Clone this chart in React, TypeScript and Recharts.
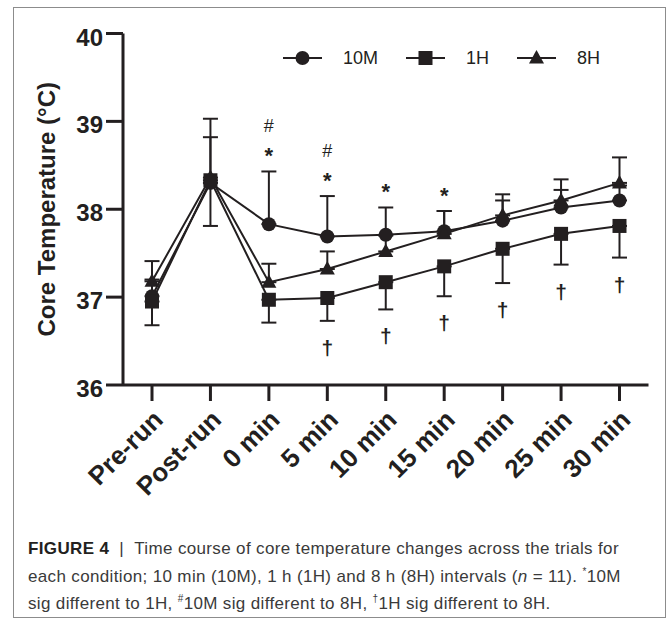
import { LineChart, Line, XAxis, YAxis, ErrorBar, Legend } from 'recharts';

// time points
const categories = ['Pre-run', 'Post-run', '0 min', '5 min', '10 min', '15 min', '20 min', '25 min', '30 min'];

// core temperature means (°C) and one-sided SD
const mean10M = [37.01, 38.3, 37.83, 37.69, 37.71, 37.75, 37.87, 38.02, 38.1];
const sdUp10M = [0.19, 0.73, 0.6, 0.46, 0.31, 0.23, 0.23, 0.2, 0.17];
const mean1H = [36.95, 38.33, 36.97, 36.99, 37.17, 37.35, 37.55, 37.72, 37.81];
const sdDown1H = [0.27, 0.52, 0.26, 0.26, 0.31, 0.34, 0.39, 0.35, 0.36];
const mean8H = [37.18, 38.36, 37.17, 37.32, 37.52, 37.72, 37.93, 38.1, 38.3];
const sdUp8H = [0.23, 0.46, 0.21, 0.2, 0.18, 0.26, 0.24, 0.24, 0.29];

// significance marks
const sig10Mvs1H = ['', '', '*', '*', '*', '*', '', '', ''];
const sig10Mvs8H = ['', '', '#', '#', '', '', '', '', ''];
const sig1Hvs8H = ['', '', '', '†', '†', '†', '†', '†', '†'];

const yTicks = [36, 37, 38, 39, 40];

const data = categories.map((name, i) => ({
  name,
  m10: mean10M[i],
  e10: [0, sdUp10M[i]],
  h1: mean1H[i],
  e1: [sdDown1H[i], 0],
  h8: mean8H[i],
  e8: [0, sdUp8H[i]],
}));

const INK = '#231f20';
const FONT = '"Liberation Sans", Arial, Helvetica, sans-serif';

const shapeFor: Record<string, string> = { '10M': 'circle', '1H': 'square', '8H': 'triangle' };

const Marker = ({ shape, cx, cy }: { shape: string; cx: number; cy: number }) => {
  if (shape === 'circle') return <circle cx={cx} cy={cy} r={7} fill={INK} />;
  if (shape === 'square') return <rect x={cx - 7} y={cy - 7} width={14} height={14} fill={INK} />;
  return <polygon points={`${cx},${cy - 8} ${cx - 7.5},${cy + 5.5} ${cx + 7.5},${cy + 5.5}`} fill={INK} />;
};

const dotOf = (shape: string) => (p: any) => (
  <g key={`${shape}-${p.index}`}>
    <Marker shape={shape} cx={p.cx} cy={p.cy} />
  </g>
);

// * and # sit above the highest upper error cap
const starMark = (p: any) => {
  const i = p.index;
  const s = sig10Mvs1H[i];
  const h = sig10Mvs8H[i];
  if (!s && !h) return <g key={`st-${i}`} />;
  const c = p.cy - 21;
  return (
    <g key={`st-${i}`} fontFamily={FONT} fill={INK} textAnchor="middle">
      {s && (
        <text x={p.cx} y={c + 12.5} fontSize={22} fontWeight="bold">
          {s}
        </text>
      )}
      {h && (
        <text x={p.cx} y={c - 25 + 6.5} fontSize={18}>
          {h}
        </text>
      )}
    </g>
  );
};

// † sits below the 1H lower error cap
const daggerMark = (p: any) => {
  const i = p.index;
  const d = sig1Hvs8H[i];
  if (!d) return <g key={`dg-${i}`} />;
  return (
    <text key={`dg-${i}`} x={p.cx} y={p.cy + 28 + 6} fontSize={21} fontWeight="bold" fontFamily={FONT} fill={INK} textAnchor="middle">
      {d}
    </text>
  );
};

const XTick = ({ x, y, payload }: any) => (
  <text
    x={x + 6}
    y={y + 12}
    transform={`rotate(-45 ${x + 6} ${y + 12})`}
    textAnchor="end"
    dominantBaseline="central"
    fontSize={26}
    fontWeight="bold"
    fontFamily={FONT}
    fill={INK}
  >
    {payload.value}
  </text>
);

const YTick = ({ x, y, payload }: any) => (
  <text x={x} y={y + 12} textAnchor="end" fontSize={24} fontWeight="bold" fontFamily={FONT} fill={INK}>
    {payload.value}
  </text>
);

const renderLegend = (props: any) => (
  <div style={{ display: 'flex', alignItems: 'center', fontFamily: FONT, fontSize: 18, color: INK, lineHeight: '20px' }}>
    {(props.payload || [])
      .filter((entry: any) => shapeFor[entry.value])
      .map((entry: any) => (
        <div key={entry.value} style={{ display: 'flex', alignItems: 'center', marginRight: 28 }}>
          <svg width={39} height={20}>
            <line x1={0} x2={39} y1={10} y2={10} stroke={INK} strokeWidth={2} />
            <Marker shape={shapeFor[entry.value]} cx={19.5} cy={10} />
          </svg>
          <span style={{ marginLeft: 21 }}>{entry.value}</span>
        </div>
      ))}
  </div>
);

export default function App() {
  return (
    <div style={{ position: 'absolute', left: 0, top: 0, width: 668, height: 619, background: '#fff' }}>
      <div
        style={{
          position: 'absolute',
          left: 13,
          top: 7,
          width: 651,
          height: 609,
          border: '1px solid #8c8c8c',
        }}
      />
      <div style={{ position: 'absolute', left: 0, top: 0 }}>
        <LineChart width={668} height={520} data={data} margin={{ top: 33.5, right: 19.5, left: 0, bottom: 0 }}>
          <XAxis
            dataKey="name"
            padding={{ left: 29, right: 29 }}
            height={135}
            tickSize={16}
            tickMargin={2}
            axisLine={{ stroke: INK, strokeWidth: 3 }}
            tickLine={{ stroke: INK, strokeWidth: 3 }}
            tick={<XTick />}
            interval={0}
          />
          <YAxis
            domain={[36, 40]}
            ticks={yTicks}
            width={123}
            tickSize={17}
            tickMargin={3}
            axisLine={{ stroke: INK, strokeWidth: 3 }}
            tickLine={{ stroke: INK, strokeWidth: 3 }}
            tick={<YTick />}
            label={{
              value: 'Core Temperature (°C)',
              angle: -90,
              position: 'insideLeft',
              offset: 46,
              style: { textAnchor: 'middle', fontSize: 24, fontWeight: 'bold', fill: INK, fontFamily: FONT },
            }}
          />
          <Legend
            content={renderLegend}
            layout="horizontal"
            verticalAlign="middle"
            align="center"
            wrapperStyle={{ top: 48, left: 283, width: 'auto' }}
          />
          <Line name="10M" dataKey="m10" stroke={INK} strokeWidth={2} dot={dotOf('circle')} activeDot={false} isAnimationActive={false}>
            <ErrorBar dataKey="e10" direction="y" width={7.5} stroke={INK} strokeWidth={2} />
          </Line>
          <Line name="1H" dataKey="h1" stroke={INK} strokeWidth={2} dot={dotOf('square')} activeDot={false} isAnimationActive={false}>
            <ErrorBar dataKey="e1" direction="y" width={7.5} stroke={INK} strokeWidth={2} />
          </Line>
          <Line name="8H" dataKey="h8" stroke={INK} strokeWidth={2} dot={dotOf('triangle')} activeDot={false} isAnimationActive={false}>
            <ErrorBar dataKey="e8" direction="y" width={7.5} stroke={INK} strokeWidth={2} />
          </Line>
          <Line
            dataKey={(d: any) => Math.max(d.m10 + d.e10[1], d.h8 + d.e8[1])}
            stroke="none"
            legendType="none"
            dot={starMark}
            activeDot={false}
            isAnimationActive={false}
          />
          <Line
            dataKey={(d: any) => d.h1 - d.e1[0]}
            stroke="none"
            legendType="none"
            dot={daggerMark}
            activeDot={false}
            isAnimationActive={false}
          />
        </LineChart>
      </div>
      <div
        style={{
          position: 'absolute',
          left: 28,
          top: 538,
          width: 636,
          fontFamily: FONT,
          fontSize: 17,
          letterSpacing: '0.35px',
          lineHeight: '22.5px',
          color: '#3a3a3a',
          whiteSpace: 'nowrap',
        }}
      >
        <div>
          <b style={{ color: INK }}>FIGURE 4</b>
          {'\u00a0\u00a0|\u00a0\u00a0'}Time course of core temperature changes across the trials for
        </div>
        <div>
          each condition; 10 min (10M), 1 h (1H) and 8 h (8H) intervals (<i>n</i> = 11). <sup style={{ fontSize: 10 }}>*</sup>10M
        </div>
        <div>
          sig different to 1H, <sup style={{ fontSize: 10 }}>#</sup>10M sig different to 8H, <sup style={{ fontSize: 10 }}>†</sup>1H sig different to 8H.
        </div>
      </div>
    </div>
  );
}
